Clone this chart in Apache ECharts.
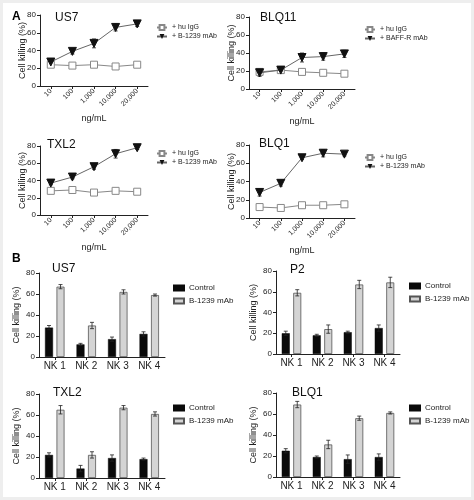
<!DOCTYPE html>
<html><head><meta charset="utf-8">
<script src="https://cdn.jsdelivr.net/npm/echarts@6/dist/echarts.min.js"></script>
<style>
html,body{margin:0;padding:0;background:#fff;}
#c{width:474px;height:500px;position:absolute;left:0;top:0;}
#f{position:absolute;left:0;top:0;width:474px;height:500px;box-sizing:border-box;border:3px solid #eeeeee;pointer-events:none;}
</style></head>
<body><div id="c"></div><div id="f"></div>
<script>
// ---- Panel A: dose response ----
const doses = ['10', '100', '1,000', '10,000', '20,000'];
const aUS7_igg = [24, 23, 24, 22, 24];
const aUS7_mab = [27, 39, 48, 66, 70];
const aUS7_mabErr = [2, 3, 5, 4, 3];
const aBLQ11_igg = [19, 21, 19, 18, 17];
const aBLQ11_mab = [18, 21, 35, 36, 39];
const aBLQ11_mabErr = [4, 2, 5, 4, 4];
const aTXL2_igg = [28, 29, 26, 28, 27];
const aTXL2_mab = [37, 44, 56, 71, 78];
const aTXL2_mabErr = [2, 2, 3, 5, 2];
const aBLQ1_igg = [12, 11, 14, 14, 15];
const aBLQ1_mab = [28, 38, 66, 71, 70];
const aBLQ1_mabErr = [4, 3, 2, 4, 2];
// ---- Panel B: NK donors ----
const nk = ['NK 1', 'NK 2', 'NK 3', 'NK 4'];
const bUS7_ctrl = [28, 12, 17, 22];
const bUS7_ctrlErr = [2, 1, 2, 2];
const bUS7_mab = [67, 30, 62, 59];
const bUS7_mabErr = [2, 3, 2, 1];
const bP2_ctrl = [20, 18, 21, 25];
const bP2_ctrlErr = [2, 1, 1, 3];
const bP2_mab = [59, 24, 67, 69];
const bP2_mabErr = [3, 4, 4, 5];
const bTXL2_ctrl = [22, 9, 19, 18];
const bTXL2_ctrlErr = [2, 3, 3, 1];
const bTXL2_mab = [65, 22, 67, 61];
const bTXL2_mabErr = [4, 3, 2, 2];
const bBLQ1_ctrl = [25, 19, 17, 19];
const bBLQ1_ctrlErr = [2, 1, 4, 3];
const bBLQ1_mab = [69, 31, 56, 61];
const bBLQ1_mabErr = [3, 4, 2, 1];

const FONT = 'Liberation Sans, Arial, sans-serif';
const chart = echarts.init(document.getElementById('c'), null, {renderer: 'canvas'});

const grids = [], xAxes = [], yAxes = [], series = [], titles = [], legends = [];

function errSeries(idx, vals, errs, offset, z) {
  return {
    type: 'custom', xAxisIndex: idx, yAxisIndex: idx, z: z || 1, silent: true,
    data: vals.map((v, i) => [i, v, errs[i]]),
    renderItem: function (params, api) {
      const i = api.value(0), v = api.value(1), e = api.value(2);
      const hi = api.coord([i, v + e]), lo = api.coord([i, v - e]);
      const x = hi[0] + offset, cw = 2;
      const st = {stroke: '#222', lineWidth: 0.8};
      return {type: 'group', children: [
        {type: 'line', shape: {x1: x, y1: hi[1], x2: x, y2: lo[1]}, style: st},
        {type: 'line', shape: {x1: x - cw, y1: hi[1], x2: x + cw, y2: hi[1]}, style: st},
        {type: 'line', shape: {x1: x - cw, y1: lo[1], x2: x + cw, y2: lo[1]}, style: st}
      ]};
    }
  };
}

function axesFor(idx, cats, rotate, xname, g, labelSize, yGap) {
  grids.push(g);
  xAxes.push({
    gridIndex: idx, type: 'category', data: cats, boundaryGap: true,
    name: xname, nameLocation: 'middle', nameGap: 28, nameMoveOverlap: false,
    nameTextStyle: {fontFamily: FONT, fontSize: 9, color: '#222'},
    axisLine: {lineStyle: {color: '#222', width: 1}},
    axisTick: {show: true, alignWithLabel: true, length: 3, lineStyle: {color: '#222'}},
    axisLabel: {rotate: rotate, fontFamily: FONT, fontSize: labelSize, color: '#222', margin: 4, interval: 0}
  });
  yAxes.push({
    gridIndex: idx, type: 'value', min: 0, max: 80, interval: 20,
    name: 'Cell killing (%)', nameLocation: 'middle', nameGap: yGap, nameMoveOverlap: false,
    nameTextStyle: {fontFamily: FONT, fontSize: 9, color: '#222'},
    axisLine: {show: true, lineStyle: {color: '#222', width: 1}},
    axisTick: {show: true, length: 3, lineStyle: {color: '#222'}},
    axisLabel: {fontFamily: FONT, fontSize: 8, color: '#222', margin: 4},
    splitLine: {show: false}
  });
}

function titleAt(text, pos) {
  titles.push({text: text, left: pos[0], top: pos[1], padding: 0,
    textStyle: {fontFamily: FONT, fontSize: 12, fontWeight: 'normal', color: '#111'}});
}

function lineFor(idx, g, title, igg, mab, mabErr, mabName, tpos, lpos) {
  axesFor(idx, doses, 45, 'ng/mL', g, 7, 13);
  titleAt(title, tpos);
  series.push({
    type: 'line', name: '+ hu IgG', xAxisIndex: idx, yAxisIndex: idx, data: igg,
    symbol: 'rect', symbolSize: 7, z: 3,
    lineStyle: {color: '#888', width: 1},
    itemStyle: {color: '#fff', borderColor: '#888', borderWidth: 1}
  });
  series.push({
    type: 'line', name: mabName, xAxisIndex: idx, yAxisIndex: idx, data: mab,
    symbol: 'triangle', symbolRotate: 180, symbolSize: 8, z: 4,
    lineStyle: {color: '#666', width: 1},
    itemStyle: {color: '#111', borderColor: '#111'}
  });
  series.push(errSeries(idx, mab, mabErr, 0, 2));
  legends.push({
    data: ['+ hu IgG', mabName], left: lpos[0], top: lpos[1], orient: 'vertical',
    padding: 0, itemWidth: 10, itemHeight: 6, itemGap: 2, selectedMode: false,
    textStyle: {fontFamily: FONT, fontSize: 7, color: '#222'}
  });
}

function barFor(idx, g, title, ctrl, ctrlErr, mab, mabErr, tpos, lpos) {
  axesFor(idx, nk, 0, '', g, 10, 18);
  titleAt(title, tpos);
  const bw = 8, gap = 3.5;
  series.push({
    type: 'bar', name: 'Control', xAxisIndex: idx, yAxisIndex: idx, data: ctrl,
    barWidth: bw, barGap: (gap / bw * 100) + '%', z: 2,
    itemStyle: {color: '#0a0a0a', borderColor: '#0a0a0a', borderWidth: 0.5}
  });
  series.push({
    type: 'bar', name: 'B-1239 mAb', xAxisIndex: idx, yAxisIndex: idx, data: mab,
    barWidth: bw, z: 2,
    itemStyle: {color: '#d4d4d4', borderColor: '#555', borderWidth: 0.8}
  });
  const off = (bw + gap) / 2;
  series.push(errSeries(idx, ctrl, ctrlErr, -off, 3));
  series.push(errSeries(idx, mab, mabErr, off, 3));
  legends.push({
    data: ['Control', 'B-1239 mAb'], left: lpos[0], top: lpos[1], orient: 'vertical',
    padding: 0, icon: 'rect', itemWidth: 10, itemHeight: 5, itemGap: 5, selectedMode: false,
    textStyle: {fontFamily: FONT, fontSize: 8, color: '#222'}
  });
}

lineFor(0, {left: 40, top: 15, width: 108, height: 71}, 'US7', aUS7_igg, aUS7_mab, aUS7_mabErr, '+ B-1239 mAb', [55, 12], [156, 24]);
lineFor(1, {left: 249, top: 17, width: 106, height: 72}, 'BLQ11', aBLQ11_igg, aBLQ11_mab, aBLQ11_mabErr, '+ BAFF-R mAb', [260, 12], [364, 26]);
lineFor(2, {left: 40, top: 146, width: 108, height: 69}, 'TXL2', aTXL2_igg, aTXL2_mab, aTXL2_mabErr, '+ B-1239 mAb', [47, 139], [156, 150]);
lineFor(3, {left: 249, top: 145, width: 106, height: 73}, 'BLQ1', aBLQ1_igg, aBLQ1_mab, aBLQ1_mabErr, '+ B-1239 mAb', [259, 138], [364, 154]);
barFor(4, {left: 39, top: 273, width: 126, height: 84}, 'US7', bUS7_ctrl, bUS7_ctrlErr, bUS7_mab, bUS7_mabErr, [52, 263], [173, 284]);
barFor(5, {left: 276, top: 271, width: 124, height: 83}, 'P2', bP2_ctrl, bP2_ctrlErr, bP2_mab, bP2_mabErr, [290, 264], [409, 282]);
barFor(6, {left: 39, top: 394, width: 126, height: 84}, 'TXL2', bTXL2_ctrl, bTXL2_ctrlErr, bTXL2_mab, bTXL2_mabErr, [53, 387], [173, 404]);
barFor(7, {left: 276, top: 393, width: 124, height: 84}, 'BLQ1', bBLQ1_ctrl, bBLQ1_ctrlErr, bBLQ1_mab, bBLQ1_mabErr, [292, 387], [409, 404]);

titles.push({text: 'A', left: 12, top: 11, padding: 0, textStyle: {fontFamily: FONT, fontSize: 12, fontWeight: 'bold', color: '#000'}});
titles.push({text: 'B', left: 12, top: 253, padding: 0, textStyle: {fontFamily: FONT, fontSize: 12, fontWeight: 'bold', color: '#000'}});

chart.setOption({
  animation: false,
  backgroundColor: '#fff',
  title: titles,
  legend: legends,
  grid: grids,
  xAxis: xAxes,
  yAxis: yAxes,
  series: series
});
</script></body></html>
